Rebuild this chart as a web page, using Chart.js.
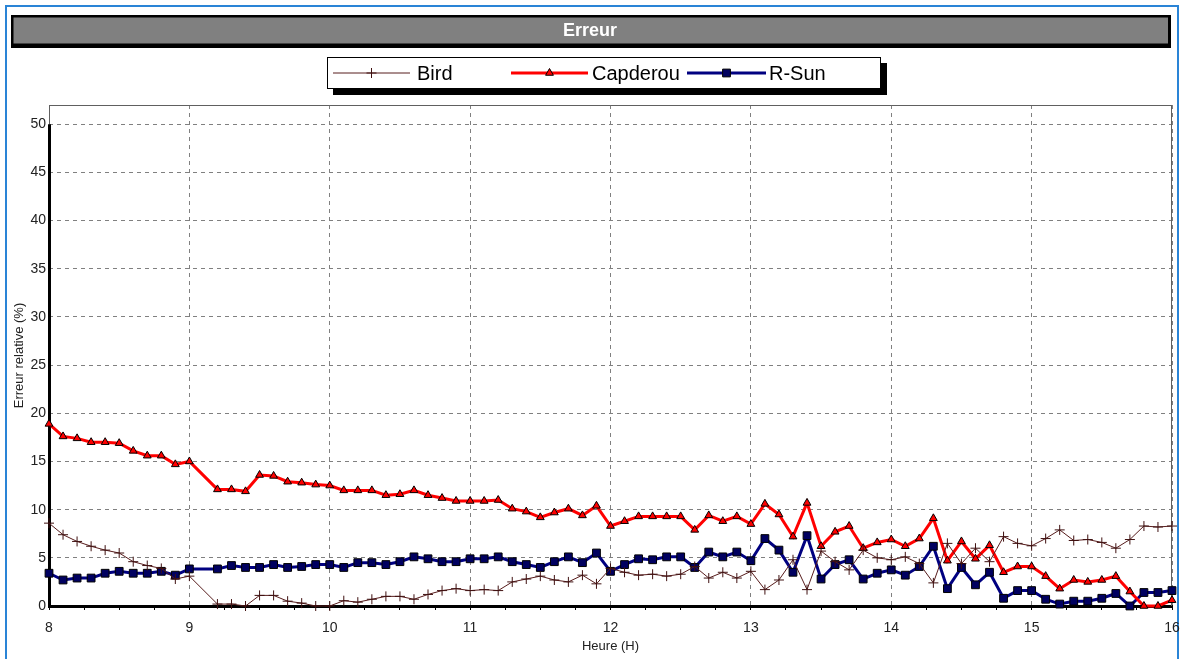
<!DOCTYPE html>
<html>
<head>
<meta charset="utf-8">
<title>Erreur</title>
<script src="https://cdn.jsdelivr.net/npm/chart.js@4.4.1/dist/chart.umd.min.js"></script>
<style>
  html, body { margin: 0; padding: 0; background: #fff; }
  canvas { display: block; }
</style>
</head>
<body>
<canvas id="erreurChart" width="1181" height="659"></canvas>
<script>
// heures de mesure (pas de 6 min, 9h06 manquant)
const HOURS = [
  8.0, 8.1, 8.2, 8.3, 8.4, 8.5, 8.6, 8.7, 8.8, 8.9, 9.0,
  9.2, 9.3, 9.4, 9.5, 9.6, 9.7, 9.8, 9.9, 10.0,
  10.1, 10.2, 10.3, 10.4, 10.5, 10.6, 10.7, 10.8, 10.9, 11.0,
  11.1, 11.2, 11.3, 11.4, 11.5, 11.6, 11.7, 11.8, 11.9, 12.0,
  12.1, 12.2, 12.3, 12.4, 12.5, 12.6, 12.7, 12.8, 12.9, 13.0,
  13.1, 13.2, 13.3, 13.4, 13.5, 13.6, 13.7, 13.8, 13.9, 14.0,
  14.1, 14.2, 14.3, 14.4, 14.5, 14.6, 14.7, 14.8, 14.9, 15.0,
  15.1, 15.2, 15.3, 15.4, 15.5, 15.6, 15.7, 15.8, 15.9, 16.0
];
const BIRD = [
  8.6, 7.4, 6.7, 6.2, 5.8, 5.5, 4.6, 4.2, 3.9, 2.8, 3.1,
  0.2, 0.2, 0.0, 1.1, 1.1, 0.5, 0.3, 0.0, 0.0,
  0.55, 0.4, 0.7, 1.0, 1.0, 0.7, 1.2, 1.6, 1.8, 1.6,
  1.7, 1.6, 2.5, 2.8, 3.1, 2.7, 2.5, 3.2, 2.3, 3.9,
  3.5, 3.2, 3.3, 3.1, 3.3, 4.1, 2.9, 3.5, 2.9, 3.6,
  1.7, 2.7, 4.8, 1.7, 5.7, 4.6, 3.75, 5.8, 5.0, 4.8,
  5.1, 4.4, 2.4, 6.5, 4.4, 6.0, 4.6, 7.2, 6.5, 6.25,
  7.0, 7.9, 6.8, 6.9, 6.6, 6.0, 6.9, 8.3, 8.2, 8.3
];
const CAPDEROU = [
  18.9, 17.6, 17.4, 17.0, 17.0, 16.9, 16.1, 15.6, 15.6, 14.7, 15.0,
  12.1, 12.1, 11.9, 13.6, 13.5, 12.9, 12.8, 12.6, 12.5,
  12.0, 12.0, 12.0, 11.5, 11.6, 12.0, 11.5, 11.2, 10.9, 10.9,
  10.9, 11.0, 10.1, 9.8, 9.2, 9.7, 10.1, 9.4, 10.4, 8.3,
  8.8, 9.3, 9.3, 9.3, 9.3, 7.9, 9.4, 8.8, 9.3, 8.5,
  10.6, 9.5, 7.2, 10.7, 6.2, 7.7, 8.3, 6.0, 6.6, 6.9,
  6.2, 7.0, 9.1, 4.7, 6.7, 4.9, 6.3, 3.5, 4.1, 4.1,
  3.1, 1.8, 2.7, 2.5, 2.7, 3.1, 1.5, 0.0, 0.0, 0.6
];
const RSUN = [
  3.4, 2.7, 2.9, 2.9, 3.4, 3.6, 3.4, 3.4, 3.6, 3.2, 3.85,
  3.85, 4.2, 4.0, 4.0, 4.3, 4.0, 4.1, 4.3, 4.3,
  4.0, 4.5, 4.5, 4.3, 4.6, 5.1, 4.9, 4.6, 4.6, 4.9,
  4.9, 5.1, 4.6, 4.3, 4.0, 4.6, 5.1, 4.5, 5.5, 3.6,
  4.3, 4.9, 4.8, 5.1, 5.1, 4.0, 5.6, 5.1, 5.6, 4.7,
  7.0, 5.8, 3.5, 7.3, 2.8, 4.3, 4.8, 2.8, 3.4, 3.75,
  3.2, 4.1, 6.2, 1.8, 4.0, 2.2, 3.5, 0.8, 1.6, 1.6,
  0.7, 0.2, 0.5, 0.5, 0.8, 1.3, 0.0, 1.4, 1.4, 1.6
];
const X_TICKS = [8, 9, 10, 11, 12, 13, 14, 15, 16];
const Y_TICKS = [0, 5, 10, 15, 20, 25, 30, 35, 40, 45, 50];

function toPoints(values) {
  return HOURS.map((h, i) => ({ x: h, y: values[i] }));
}

function drawMarker(ctx, style, x, y, r, fill, stroke) {
  ctx.save();
  ctx.lineWidth = 1;
  ctx.strokeStyle = stroke;
  ctx.fillStyle = fill;
  ctx.beginPath();
  if (style === 'cross') {
    ctx.moveTo(x, y - r); ctx.lineTo(x, y + r);
    ctx.moveTo(x - r, y); ctx.lineTo(x + r, y);
    ctx.stroke();
  } else if (style === 'triangle') {
    ctx.moveTo(x, y - r);
    ctx.lineTo(x + r * 0.87, y + r * 0.5);
    ctx.lineTo(x - r * 0.87, y + r * 0.5);
    ctx.closePath();
    ctx.fill(); ctx.stroke();
  } else {
    const s = r * Math.SQRT1_2;
    ctx.rect(x - s, y - s, 2 * s, 2 * s);
    ctx.fill(); ctx.stroke();
  }
  ctx.restore();
}

// cadre, bandeau de titre et légende
const decorPlugin = {
  id: 'decor',
  beforeDraw(chart) {
    const ctx = chart.ctx;
    ctx.save();
    ctx.fillStyle = '#fff';
    ctx.fillRect(0, 0, chart.width, chart.height);

    ctx.strokeStyle = '#2a84d6';
    ctx.lineWidth = 2;
    ctx.strokeRect(6, 6, 1172, 700);

    // bandeau titre
    ctx.fillStyle = '#000';
    ctx.fillRect(11, 15, 1160, 33);
    ctx.fillStyle = '#808080';
    ctx.fillRect(13.5, 17.5, 1154.5, 26);
    ctx.fillStyle = '#fff';
    ctx.font = 'bold 18px "Liberation Sans", Arial, sans-serif';
    ctx.textAlign = 'center';
    ctx.textBaseline = 'middle';
    ctx.fillText('Erreur', 590, 31);

    // légende
    ctx.fillStyle = '#000';
    ctx.fillRect(333, 63, 554, 32);
    ctx.fillStyle = '#fff';
    ctx.fillRect(327, 57, 553, 31);
    ctx.strokeStyle = '#000';
    ctx.lineWidth = 1;
    ctx.strokeRect(327.5, 57.5, 553, 31);

    const slots = [[333, 410, 417], [511, 588, 592], [687, 766, 769]];
    ctx.font = '20px "Liberation Sans", Arial, sans-serif';
    ctx.textAlign = 'left';
    chart.data.datasets.forEach((ds, i) => {
      const [x1, x2, tx] = slots[i];
      const y = 73;
      ctx.strokeStyle = ds.borderColor;
      ctx.lineWidth = ds.borderWidth;
      ctx.beginPath();
      ctx.moveTo(x1, y); ctx.lineTo(x2, y);
      ctx.stroke();
      drawMarker(ctx, ds.pointStyle, (x1 + x2) / 2, y, ds.pointRadius,
        ds.pointBackgroundColor, ds.pointBorderColor);
      ctx.fillStyle = '#000';
      ctx.fillText(ds.label, tx, y + 1);
    });
    ctx.restore();
  },
  beforeDatasetsDraw(chart) {
    const ctx = chart.ctx;
    const { left, right, top, bottom } = chart.chartArea;
    const yScale = chart.scales.y;
    const y50 = yScale.getPixelForValue(50);
    ctx.save();
    ctx.strokeStyle = '#606060';
    ctx.lineWidth = 1;
    ctx.beginPath();
    ctx.moveTo(left, top + 0.5); ctx.lineTo(right, top + 0.5);
    ctx.moveTo(right - 0.5, top); ctx.lineTo(right - 0.5, bottom);
    ctx.moveTo(left + 0.5, top); ctx.lineTo(left + 0.5, y50);
    ctx.stroke();
    ctx.strokeStyle = '#000';
    ctx.lineWidth = 3;
    ctx.beginPath();
    ctx.moveTo(left + 0.5, y50); ctx.lineTo(left + 0.5, bottom);
    ctx.stroke();
    ctx.restore();
  }
};

new Chart(document.getElementById('erreurChart'), {
  type: 'line',
  data: {
    datasets: [
      {
        label: 'Bird',
        data: toPoints(BIRD),
        borderColor: '#571c1c',
        borderWidth: 1,
        pointStyle: 'cross',
        pointRadius: 5,
        pointBorderWidth: 1,
        pointBackgroundColor: '#571c1c',
        pointBorderColor: '#3f1010',
        tension: 0,
        clip: false
      },
      {
        label: 'Capderou',
        data: toPoints(CAPDEROU),
        borderColor: '#ff0000',
        borderWidth: 3,
        pointStyle: 'triangle',
        pointRadius: 4.5,
        pointBorderWidth: 1,
        pointBackgroundColor: '#ff0000',
        pointBorderColor: '#000',
        tension: 0,
        clip: false
      },
      {
        label: 'R-Sun',
        data: toPoints(RSUN),
        borderColor: '#000080',
        borderWidth: 3,
        pointStyle: 'rect',
        pointRadius: 5.5,
        pointBorderWidth: 1,
        pointBackgroundColor: '#000060',
        pointBorderColor: '#000',
        tension: 0,
        clip: false
      }
    ]
  },
  options: {
    responsive: false,
    animation: false,
    layout: { padding: { top: 105, right: 9, left: 0, bottom: 0 } },
    plugins: {
      legend: { display: false },
      title: { display: false },
      tooltip: { enabled: false }
    },
    scales: {
      x: {
        type: 'linear',
        min: 8,
        max: 16,
        afterFit: (scale) => {
          scale.height = 53;
          scale.paddingLeft = 0;
          scale.paddingRight = 0;
        },
        ticks: {
          stepSize: 0.25,
          autoSkip: false,
          maxRotation: 0,
          padding: 10,
          color: '#222',
          font: { family: '"Liberation Sans", Arial, sans-serif', size: 14 },
          callback: (v) => X_TICKS.includes(v) ? String(v) : ''
        },
        grid: {
          color: (c) => (c.tick && X_TICKS.includes(c.tick.value)) ? '#808080' : 'rgba(0,0,0,0)',
          lineWidth: 1,
          drawTicks: true,
          tickLength: 4,
          tickColor: '#000',
          tickWidth: 1
        },
        border: { display: true, color: '#000', width: 3, dash: [4, 4] },
        title: {
          display: true,
          text: 'Heure (H)',
          color: '#222',
          font: { family: '"Liberation Sans", Arial, sans-serif', size: 13 },
          padding: { top: 0, bottom: 5 }
        }
      },
      y: {
        min: 0,
        max: 52,
        afterFit: (scale) => { scale.width = 49; },
        afterBuildTicks: (scale) => { scale.ticks = Y_TICKS.map(v => ({ value: v })); },
        ticks: {
          padding: 3,
          color: '#222',
          font: { family: '"Liberation Sans", Arial, sans-serif', size: 14 }
        },
        grid: {
          color: '#808080',
          lineWidth: 1,
          drawTicks: false
        },
        border: { display: false, dash: [4, 4] },
        title: {
          display: true,
          text: 'Erreur relative (%)',
          color: '#222',
          font: { family: '"Liberation Sans", Arial, sans-serif', size: 13 },
          padding: { top: 12, bottom: 0 }
        }
      }
    }
  },
  plugins: [decorPlugin]
});
</script>
</body>
</html>
